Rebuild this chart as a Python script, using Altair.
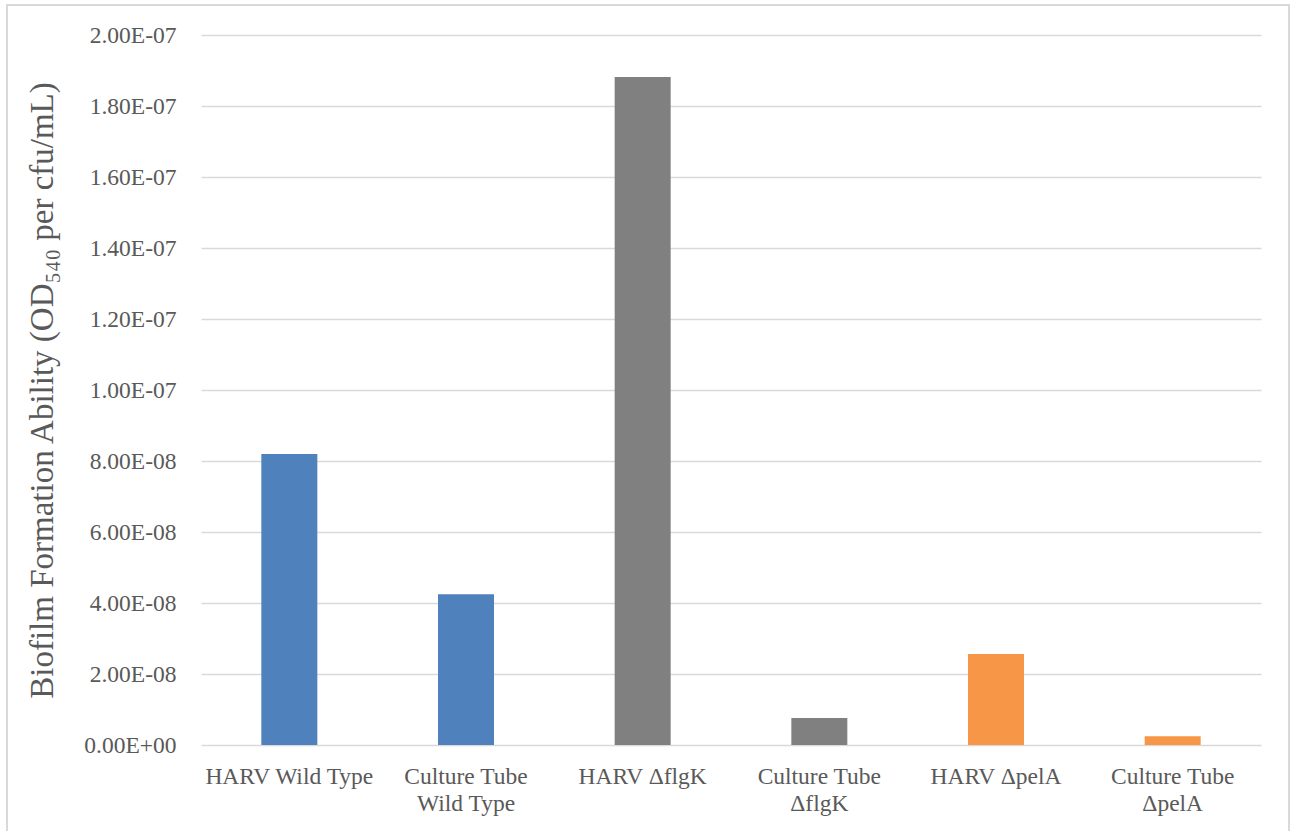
import json
import altair as alt
import pandas as pd

# Biofilm formation per strain and growth vessel
categories = [
    "HARV Wild Type",
    "Culture Tube|Wild Type",
    "HARV \u0394flgK",
    "Culture Tube|\u0394flgK",
    "HARV \u0394pelA",
    "Culture Tube|\u0394pelA",
]
strains = ["Wild Type", "Wild Type", "flgK", "flgK", "pelA", "pelA"]
values = [8.20e-08, 4.25e-08, 1.882e-07, 7.6e-09, 2.56e-08, 2.5e-09]

y_ticks = [0, 2e-08, 4e-08, 6e-08, 8e-08, 1e-07, 1.2e-07, 1.4e-07, 1.6e-07, 1.8e-07, 2e-07]
y_tick_labels = ["0.00E+00", "2.00E-08", "4.00E-08", "6.00E-08", "8.00E-08", "1.00E-07",
                 "1.20E-07", "1.40E-07", "1.60E-07", "1.80E-07", "2.00E-07"]

strain_order = ["Wild Type", "flgK", "pelA"]
strain_colors = ["#4f81bd", "#808080", "#f79646"]

df = pd.DataFrame({"category": categories, "strain": strains, "value": values})

FONT = "Liberation Serif"
TEXT = "#595959"
GRID = "#d9d9d9"

bars = alt.Chart(df).mark_bar().encode(
    x=alt.X(
        "category:N",
        sort=categories,
        scale=alt.Scale(paddingInner=0.683, paddingOuter=0.3415),
        axis=alt.Axis(
            title=None,
            labelAngle=0,
            labelExpr="split(datum.label, '|')",
            labelFont=FONT,
            labelFontSize=23.5,
            labelColor=TEXT,
            labelLineHeight=27,
            labelPadding=19,
            labelBaseline="top",
            ticks=False,
            domain=False,
            grid=False,
        ),
    ),
    y=alt.Y(
        "value:Q",
        scale=alt.Scale(domain=[0, 2e-07], nice=False),
        axis=alt.Axis(
            title="Biofilm Formation Ability (OD\u2085\u2084\u2080 per cfu/mL)",
            values=y_ticks,
            labelExpr=json.dumps(y_tick_labels) + "[round(datum.value / 2e-8)]",
            labelFont=FONT,
            labelFontSize=23.5,
            labelColor=TEXT,
            labelPadding=25,
            titleFont=FONT,
            titleFontSize=33,
            titleFontWeight="normal",
            titleColor=TEXT,
            titlePadding=24,
            ticks=False,
            domain=False,
            grid=True,
            gridColor=GRID,
            gridWidth=1.5,
        ),
    ),
    color=alt.Color(
        "strain:N",
        scale=alt.Scale(domain=strain_order, range=strain_colors),
        legend=None,
    ),
)

# Light outline around the whole chart
frame = alt.Chart(df).mark_rect(
    fill=None, stroke=GRID, strokeWidth=2, clip=False
).encode(
    x=alt.value(-194), x2=alt.value(1088),
    y=alt.value(-30), y2=alt.value(810),
)

chart = alt.layer(frame, bars).properties(
    width=1060,
    height=710,
    padding={"left": 201, "top": 35, "right": 30, "bottom": 86},
    autosize=alt.AutoSizeParams(type="none"),
    background="white",
).configure_view(stroke=None)

chart.save("out.html", embed_options={"renderer": "svg", "actions": False})
